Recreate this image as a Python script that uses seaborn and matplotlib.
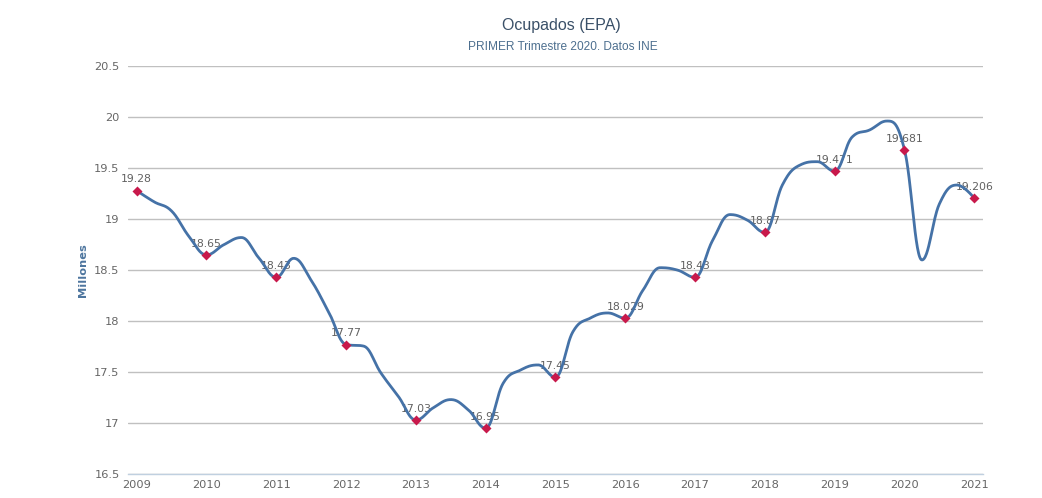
import numpy as np
import seaborn as sns
import matplotlib.pyplot as plt

# quarterly employed (millions), 2009 Q1 .. 2021 Q1
ocupados = [
    19.28, 19.17, 19.08, 18.83,
    18.65, 18.75, 18.82, 18.62,
    18.43, 18.616, 18.40, 18.09,
    17.77, 17.755, 17.49, 17.26,
    17.03, 17.15, 17.23, 17.13,
    16.95, 17.39, 17.52, 17.57,
    17.45, 17.896, 18.03, 18.08,
    18.029, 18.30, 18.524, 18.50,
    18.43, 18.79, 19.045, 18.99,
    18.87, 19.335, 19.53, 19.564,
    19.471, 19.806, 19.875, 19.963,
    19.681, 18.60, 19.15, 19.335,
    19.206,
]
years = ["2009", "2010", "2011", "2012", "2013", "2014", "2015",
         "2016", "2017", "2018", "2019", "2020", "2021"]
y_ticks = [16.5, 17, 17.5, 18, 18.5, 19, 19.5, 20, 20.5]

LINE = "#4572A7"
MARK = "#C8194B"


def spline_path(xs, ys, smoothing=1.5, steps=30):
    # highcharts-style spline: bezier control points, no false extremes
    n = len(xs)
    lc = [(x, y) for x, y in zip(xs, ys)]
    rc = [(x, y) for x, y in zip(xs, ys)]
    d = smoothing + 1
    for i in range(1, n - 1):
        px, py = xs[i], ys[i]
        lx, ly = xs[i - 1], ys[i - 1]
        nx, ny = xs[i + 1], ys[i + 1]
        lcx, lcy = (smoothing * px + lx) / d, (smoothing * py + ly) / d
        rcx, rcy = (smoothing * px + nx) / d, (smoothing * py + ny) / d
        if rcx != lcx:
            corr = (rcy - lcy) * (rcx - px) / (rcx - lcx) + py - rcy
            lcy += corr
            rcy += corr
        if lcy > ly and lcy > py:
            lcy = max(ly, py)
            rcy = 2 * py - lcy
        elif lcy < ly and lcy < py:
            lcy = min(ly, py)
            rcy = 2 * py - lcy
        if rcy > ny and rcy > py:
            rcy = max(ny, py)
            lcy = 2 * py - rcy
        elif rcy < ny and rcy < py:
            rcy = min(ny, py)
            lcy = 2 * py - rcy
        lc[i] = (lcx, lcy)
        rc[i] = (rcx, rcy)
    t = np.linspace(0, 1, steps)[:, None]
    pts = []
    for i in range(1, n):
        p0 = np.array([xs[i - 1], ys[i - 1]])
        p1 = np.array(rc[i - 1])
        p2 = np.array(lc[i])
        p3 = np.array([xs[i], ys[i]])
        seg = ((1 - t) ** 3) * p0 + 3 * ((1 - t) ** 2) * t * p1 + 3 * (1 - t) * t ** 2 * p2 + t ** 3 * p3
        pts.append(seg if i == 1 else seg[1:])
    pts = np.vstack(pts)
    return pts[:, 0], pts[:, 1]


def plot_ocupados():
    sns.set_style("white")
    plt.rcParams["font.family"] = ["DejaVu Sans"]

    fig = plt.figure(figsize=(10.42, 4.98), dpi=100)
    ax = fig.add_axes([0.1228, 0.0482, 0.8206, 0.8187])

    xq = np.arange(len(ocupados))
    sx, sy = spline_path(list(xq.astype(float)), ocupados)
    sns.lineplot(x=sx, y=sy, ax=ax, color=LINE, linewidth=2,
                 estimator=None, sort=False, zorder=3)

    xm = xq[::4]
    ym = ocupados[::4]
    sns.scatterplot(x=xm, y=ym, ax=ax, marker="D", s=26, color=MARK,
                    edgecolor=MARK, linewidth=0, zorder=4)
    for x, v in zip(xm, ym):
        ax.annotate(f"{v:g}", (x, v), xytext=(0, 4.5), textcoords="offset points",
                    ha="center", va="bottom", fontsize=7.8, color="#606060", zorder=2)

    ax.set_xlim(-0.5, len(ocupados) - 0.5)
    ax.set_ylim(16.5, 20.5)
    ax.set_xticks(xm)
    ax.set_xticklabels(years)
    ax.set_xticks(np.arange(-0.5, len(ocupados), 1), minor=True)
    ax.tick_params(axis="x", which="major", length=0, pad=4, labelsize=8.2, labelcolor="#666666")
    ax.tick_params(axis="x", which="minor", length=3.5, width=0.8, color="#C0D0E0", direction="out")
    ax.set_yticks(y_ticks)
    ax.set_yticklabels([f"{v:g}" for v in y_ticks])
    ax.tick_params(axis="y", length=0, pad=6, labelsize=8.2, labelcolor="#666666")

    ax.grid(axis="y", color="#C0C0C0", linewidth=1)
    ax.grid(axis="x", visible=False)
    for side in ["left", "right", "top"]:
        ax.spines[side].set_visible(False)
    ax.spines["bottom"].set_color("#C0D0E0")
    ax.spines["bottom"].set_linewidth(1)
    ax.spines["bottom"].set_zorder(5)

    ax.set_ylabel("Millones", fontsize=8.2, fontweight="bold", color="#4D759E")
    ax.yaxis.set_label_coords(-0.047, 0.5)
    ax.set_xlabel("")

    fig.text(0.539, 0.948, "Ocupados (EPA)", ha="center", va="center",
             fontsize=11.5, color="#3A5068", family=["Liberation Sans"])
    fig.text(0.540, 0.905, "PRIMER Trimestre 2020. Datos INE", ha="center", va="center",
             fontsize=8.6, color="#4D6F8F", family=["Liberation Sans"])

    fig.savefig("out.png", dpi=100)


if __name__ == "__main__":
    plot_ocupados()
